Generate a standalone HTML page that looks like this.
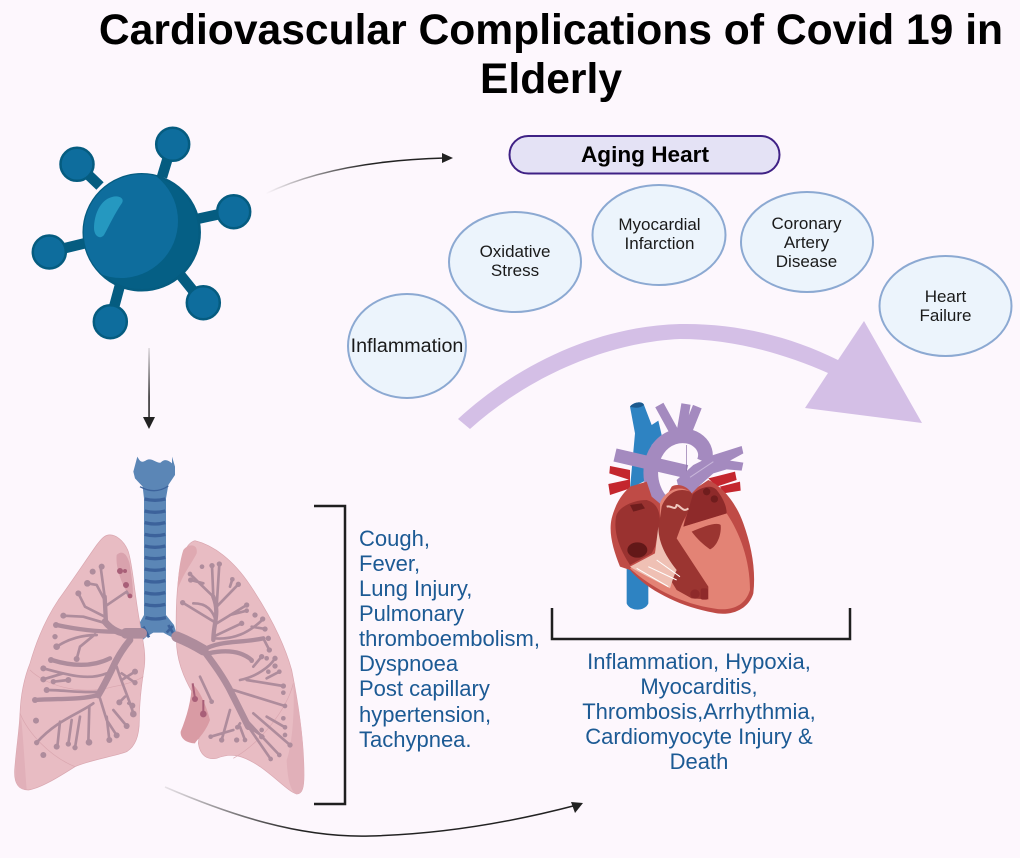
<!DOCTYPE html>
<html><head><meta charset="utf-8"><style>
html,body{margin:0;padding:0;background:#fdf7fd}
svg{display:block}
text{font-family:"Liberation Sans",sans-serif}
</style></head><body>
<svg xmlns="http://www.w3.org/2000/svg" width="1020" height="858" viewBox="0 0 1020 858">
<defs>
<linearGradient id="fa" gradientUnits="userSpaceOnUse" x1="265" y1="190" x2="440" y2="158"><stop offset="0" stop-color="#222" stop-opacity="0"/><stop offset=".6" stop-color="#222"/></linearGradient>
<linearGradient id="fb" x1="0" y1="0" x2="0" y2="1"><stop offset="0" stop-color="#222" stop-opacity=".15"/><stop offset=".7" stop-color="#222"/></linearGradient>
<linearGradient id="fc" gradientUnits="userSpaceOnUse" x1="165" y1="788" x2="300" y2="830"><stop offset="0" stop-color="#222" stop-opacity=".1"/><stop offset="1" stop-color="#222"/></linearGradient>
<clipPath id="body"><circle cx="141.700" cy="232.300" r="58"/></clipPath>
</defs>
<rect width="1020" height="858" fill="#fdf7fd"/>
<g font-weight="700" font-size="42.6" fill="#000" text-anchor="middle">
<text x="551" y="44">Cardiovascular Complications of Covid 19 in</text>
<text x="551" y="93">Elderly</text>
</g>

<!-- virus -->
<g stroke="#055c80" stroke-width="10.500">
<path d="M162 177L172 144M100 186L77 164M197 219L234 211M86 243L49 252M120 285L110 322M178 272L203 303"/>
</g>
<g fill="#0e6d9d" stroke="#055c80" stroke-width="2.500">
<circle cx="172.700" cy="144.300" r="16.500"/><circle cx="77" cy="164.300" r="16.500"/><circle cx="233.700" cy="211.700" r="16.500"/><circle cx="49.300" cy="252" r="16.500"/><circle cx="110.300" cy="321.700" r="16.500"/><circle cx="203.300" cy="302.700" r="16.500"/>
</g>
<circle cx="141.700" cy="232.300" r="58" fill="#055f85" stroke="#055c80" stroke-width="2.500"/>
<g clip-path="url(#body)"><circle cx="121" cy="221" r="57" fill="#0e6d9d"/></g>
<path d="M112 197C118 195 125 198 122 203C115 213 109 226 104 235C100 240 94 236 94 228C94 215 100 200 112 197Z" fill="#2598c0"/>

<!-- arrows -->
<path d="M265 194C310 172 370 160 445 158" fill="none" stroke="url(#fa)" stroke-width="1.500"/>
<path d="M442 153L453 158L442 163Z" fill="#222"/>
<rect x="148.300" y="348" width="1.500" height="70" fill="url(#fb)"/>
<path d="M143 417H155L149 429Z" fill="#222"/>
<path d="M165 787C230 815 300 838 370 836C450 834 520 820 577 805" fill="none" stroke="url(#fc)" stroke-width="1.500"/>
<path d="M571 802L583 803L575 813Z" fill="#222"/>

<!-- Aging Heart -->
<rect x="509.500" y="136" width="270" height="37.500" rx="18.700" fill="#e4e2f5" stroke="#3f2185" stroke-width="2"/>
<text x="645" y="162" font-size="22.500" font-weight="700" text-anchor="middle" fill="#000" textLength="128" lengthAdjust="spacingAndGlyphs">Aging Heart</text>

<!-- ellipses -->
<g fill="#ecf4fc" stroke="#8ca9d2" stroke-width="2">
<ellipse cx="407" cy="346" rx="59" ry="52"/>
<ellipse cx="515" cy="262" rx="66" ry="50"/>
<ellipse cx="659" cy="235" rx="66.500" ry="50"/>
<ellipse cx="807" cy="242" rx="66" ry="50"/>
<ellipse cx="945.500" cy="306" rx="66" ry="50"/>
</g>
<g font-size="17" fill="#1a1a1a" text-anchor="middle">
<text x="407" y="352" font-size="19.700">Inflammation</text>
<text x="515" y="257">Oxidative</text><text x="515" y="276">Stress</text>
<text x="659.500" y="230">Myocardial</text><text x="659.500" y="249">Infarction</text>
<text x="806.500" y="229">Coronary</text><text x="806.500" y="248">Artery</text><text x="806.500" y="267">Disease</text>
<text x="945.500" y="302">Heart</text><text x="945.500" y="321">Failure</text>
</g>

<!-- big arrow -->
<path d="M458 419C520 362 600 326 680 324C735 323 790 336 838 360L864 321L922 423L805 408L828 373C780 352 730 339 680 339C610 342 530 375 470 429Z" fill="#d4bfe6"/>

<!-- lungs -->
<g transform="translate(0 450) scale(.33333)">
<g fill="#5b86b6">
<path d="M412 20C420 35 425 40 440 30C455 22 470 40 482 38C495 22 510 35 516 40L516 20L525 50L525 75L505 105L498 145L432 145L428 110L405 85L400 65Z"/>
<path d="M432 135H498V495L522 525L537 578L512 560L490 548H460L440 560L428 570L418 520L432 495Z"/>
</g>
<g stroke="#3c629b" stroke-width="10" fill="none">
<path d="M434 147Q465 155 496 147M434 183Q465 191 496 183M434 218Q465 226 496 218M434 253Q465 261 496 253M434 288Q465 296 496 288M434 322Q465 330 496 322M434 357Q465 365 496 357M434 392Q465 400 496 392M434 428Q465 436 496 428M434 463Q465 471 496 463M436 503Q465 511 498 503"/>
<path d="M430 530L447 562M518 528L500 548M505 525L530 568" stroke-width="8"/>
</g>
<path d="M420 110Q465 135 505 108" fill="none" stroke="#3c629b" stroke-width="4"/>

<path d="M325 255C345 252 372 270 385 305C398 345 402 420 418 510C430 580 438 610 433 650C425 700 418 750 418 810C418 860 405 890 380 905C340 920 270 930 225 950C170 985 120 1015 85 1020C55 1020 42 1000 44 960C48 900 58 840 60 790C62 740 70 690 90 640C110 570 135 510 175 450C215 395 265 320 290 285C303 268 312 257 325 255Z" fill="#e8bcc3" stroke="#d9a6af" stroke-width="2"/>
<path d="M585 272C640 285 700 330 750 405C800 480 850 570 875 660C895 760 912 880 912 975C912 1010 908 1032 890 1032C865 1025 830 985 780 950C735 920 700 905 650 925C620 930 600 915 595 880C600 830 610 800 590 750C560 700 535 650 530 590C527 520 528 450 535 390C540 340 552 280 585 272Z" fill="#e8bcc3" stroke="#d9a6af" stroke-width="2"/>
<path d="M350 315C370 295 388 320 392 360C398 400 402 440 395 445C375 425 345 360 350 315Z" fill="#d9a2ad"/>
<path d="M550 300C565 280 595 280 590 310C575 340 550 370 532 420C535 370 540 330 550 300Z" fill="#dfa9b1"/>
<path d="M575 700C600 720 620 770 630 810C615 850 590 870 585 880C560 880 540 865 542 845C560 800 575 750 575 700Z" fill="#d99ba4"/>
<path d="M46 960C48 900 60 840 62 790C70 860 75 960 80 1018C55 1020 44 1000 46 960ZM860 930C875 890 885 790 880 700C900 780 912 880 912 975C912 1010 908 1032 890 1032C870 1025 862 980 860 930Z" fill="#e1b0b9"/>
<g fill="none" stroke="#d9a6af" stroke-width="2">
<path d="M90 660C130 700 230 740 340 710C370 705 405 695 430 680M60 790C85 850 150 920 225 950M880 700C860 780 780 880 700 925"/>
</g>
<!-- bronchi -->
<g fill="none" stroke="#ae8c9c" stroke-linecap="round" stroke-linejoin="round">
<g stroke-width="32"><path d="M425 550H378M530 560C560 572 585 585 610 600"/></g>
<g stroke-width="20"><path d="M390 555C360 550 335 540 315 515M390 570C365 600 350 625 335 660C320 690 310 710 295 735M610 600C640 640 670 680 695 730C710 760 725 790 745 830"/></g>
<g stroke-width="13"><path d="M318 520L314 440M345 545C290 545 240 540 170 525M330 625C280 650 220 650 155 630M295 735C240 750 180 745 105 750M640 570C640 520 660 490 640 440M610 600C660 570 720 580 790 565M625 610C670 600 720 600 755 630"/></g>
<g stroke-width="8"><path d="M314 500L255 470L235 430M314 450L290 405L262 400M314 470L380 425L388 440M314 440L302 352M318 520L250 500L190 497M290 555C240 555 200 570 170 590M285 553L240 590L230 627M320 670C270 690 220 680 130 655M300 725C250 730 190 720 140 720M280 760C240 790 170 810 110 878M268 770L265 877M180 815L172 890M215 810L205 882M240 800L225 893M350 650C365 700 385 740 400 790M365 690L405 665M365 670L405 698M300 745L320 810L350 856M320 800L328 870M375 740L358 757M385 760L397 767M340 780L380 828M160 695L205 690M130 688L190 670"/>
<path d="M640 440L570 372M610 400L572 390M640 440L636 347M650 470L658 342M650 470L715 403M690 410L697 388M650 520L740 465M690 495L740 482M640 560L725 520M640 565C700 570 745 550 790 507M755 530L795 537M790 565L808 600M720 690C770 680 810 650 825 625M760 650L785 620M740 690L850 708M800 685L838 665M700 720L855 768M745 830L790 860M745 830L812 927M720 790L838 915M760 790L870 885M800 800L855 832M690 780L665 870M700 840L632 860M720 830L735 870M720 820L712 832M600 680L635 755M580 460C620 460 640 480 650 520L548 458"/></g>
</g>
<g fill="#ae8c9c">
<circle cx="235" cy="430" r="9"/><circle cx="262" cy="400" r="10"/><circle cx="305" cy="350" r="9"/><circle cx="278" cy="365" r="9"/><circle cx="190" cy="497" r="9"/><circle cx="168" cy="525" r="9"/><circle cx="170" cy="590" r="10"/><circle cx="165" cy="560" r="8"/><circle cx="230" cy="627" r="9"/><circle cx="153" cy="630" r="9"/><circle cx="130" cy="655" r="9"/><circle cx="130" cy="688" r="9"/><circle cx="160" cy="695" r="8"/><circle cx="205" cy="690" r="9"/><circle cx="140" cy="720" r="9"/><circle cx="105" cy="750" r="9"/><circle cx="108" cy="812" r="9"/><circle cx="110" cy="878" r="8"/><circle cx="130" cy="915" r="9"/><circle cx="170" cy="890" r="9"/><circle cx="205" cy="882" r="8"/><circle cx="225" cy="893" r="8"/><circle cx="267" cy="877" r="10"/><circle cx="328" cy="870" r="9"/><circle cx="350" cy="856" r="9"/><circle cx="380" cy="828" r="9"/><circle cx="400" cy="792" r="10"/><circle cx="358" cy="757" r="9"/><circle cx="397" cy="767" r="9"/><circle cx="405" cy="665" r="9"/><circle cx="405" cy="698" r="8"/>
<circle cx="548" cy="458" r="8"/><circle cx="572" cy="390" r="8"/><circle cx="570" cy="372" r="7"/><circle cx="606" cy="350" r="7"/><circle cx="636" cy="347" r="8"/><circle cx="658" cy="342" r="8"/><circle cx="697" cy="388" r="7"/><circle cx="715" cy="403" r="8"/><circle cx="740" cy="465" r="8"/><circle cx="740" cy="482" r="7"/><circle cx="725" cy="520" r="8"/><circle cx="765" cy="495" r="8"/><circle cx="788" cy="507" r="8"/><circle cx="795" cy="537" r="8"/><circle cx="805" cy="565" r="8"/><circle cx="808" cy="600" r="8"/><circle cx="755" cy="632" r="7"/><circle cx="785" cy="620" r="8"/><circle cx="800" cy="625" r="7"/><circle cx="825" cy="625" r="8"/><circle cx="825" cy="648" r="8"/><circle cx="838" cy="665" r="7"/><circle cx="805" cy="665" r="7"/><circle cx="850" cy="708" r="8"/><circle cx="850" cy="728" r="7"/><circle cx="855" cy="768" r="7"/><circle cx="850" cy="805" r="7"/><circle cx="855" cy="832" r="7"/><circle cx="855" cy="855" r="7"/><circle cx="870" cy="885" r="8"/><circle cx="838" cy="915" r="7"/><circle cx="812" cy="927" r="7"/><circle cx="785" cy="860" r="8"/><circle cx="785" cy="840" r="7"/><circle cx="735" cy="870" r="7"/><circle cx="712" cy="832" r="7"/><circle cx="710" cy="870" r="8"/><circle cx="665" cy="870" r="8"/><circle cx="632" cy="860" r="7"/><circle cx="635" cy="755" r="7"/>
</g>
<g fill="#a85f78"><circle cx="360" cy="363" r="9"/><circle cx="375" cy="363" r="6"/><circle cx="378" cy="405" r="9"/><circle cx="390" cy="438" r="7"/><circle cx="585" cy="747" r="9"/><circle cx="610" cy="792" r="10"/></g>
<g fill="none" stroke="#a85f78" stroke-width="6"><path d="M578 700L585 745M610 750L610 790"/></g>
</g>

<!-- bracket left -->
<path d="M314 506H345V804H314" fill="none" stroke="#1f1f1f" stroke-width="2.500"/>
<g font-size="22" fill="#1c5a94">
<text x="359" y="546">Cough,</text><text x="359" y="571">Fever,</text><text x="359" y="596">Lung Injury,</text><text x="359" y="621">Pulmonary</text><text x="359" y="646">thromboembolism,</text><text x="359" y="671">Dyspnoea</text><text x="359" y="696">Post capillary</text><text x="359" y="722">hypertension,</text><text x="359" y="747">Tachypnea.</text>
</g>

<!-- heart -->
<g transform="translate(580 390) scale(.33333)">
<path d="M140 530H205V640C195 665 150 665 140 640Z" fill="#2e83c2"/>
<path d="M150 50C160 36 188 32 192 45L215 105L235 92L245 135L215 165L200 270L150 295L165 130Z" fill="#2e83c2"/>
<g fill="none" stroke-linecap="butt">
<path d="M105 195L320 245" stroke="#a48abf" stroke-width="40"/>
<path d="M238 45L282 125M318 42L304 125M352 50L322 125" stroke="#a48abf" stroke-width="28"/>
<path d="M255 345C190 290 200 170 280 142C340 122 392 170 372 215" stroke="#a48abf" stroke-width="44"/>
<path d="M320 165V250" stroke="#8b6fa8" stroke-width="2"/>
</g>
<path d="M150 50C160 36 188 32 192 45C180 55 165 55 150 50Z" fill="#1c5a8e"/>
<g fill="#c4262e"><path d="M90 228L150 240L150 270L88 250Z"/><path d="M85 282L150 268L150 295L90 315Z"/><path d="M385 265L465 245L470 270L410 290ZM420 290L480 275L482 302L430 310Z"/></g>
<path d="M290 270L340 225L400 195L485 168L490 190L450 212L490 218L485 242L440 238L400 250L355 290L335 320L295 290Z" fill="#a48abf"/>
<path d="M330 262L400 215" stroke="#c8b6da" stroke-width="3" fill="none"/>
<path d="M150 290L200 275L215 320L245 345L275 290C290 280 320 285 335 310L355 290L385 270C420 285 465 330 490 400C515 470 528 540 520 610C505 660 450 680 400 668C300 650 200 600 150 540L120 530C100 480 85 430 95 385C110 330 130 310 150 290Z" fill="#bf4b46"/>
<path d="M108 380C115 350 160 330 200 330C230 340 240 360 240 400L225 470L215 490L150 525C120 480 100 430 108 380Z" fill="#9a3230"/>
<path d="M185 340L195 355L160 365L150 345Z" fill="#6f1d1d"/>
<ellipse cx="172" cy="480" rx="30" ry="23" fill="#621818"/>
<path d="M240 340C250 310 290 280 330 305L310 410L440 370C480 430 510 510 510 600C495 650 450 665 400 655C300 640 210 590 150 535L225 490L240 400Z" fill="#e38375"/>
<path d="M245 350C260 310 295 290 330 305L345 320C340 340 320 370 305 405L290 445L385 590V628L335 625L290 600L235 510L230 450Z" fill="#9b3531"/>
<path d="M340 310C360 295 390 280 410 300C430 325 440 350 440 370L310 410Z" fill="#8e2a2a"/>
<circle cx="380" cy="305" r="11" fill="#6f1d1d"/><circle cx="403" cy="327" r="11" fill="#6f1d1d"/>
<path d="M335 425C370 410 410 395 422 405C425 435 410 470 390 478C370 465 350 445 335 425Z" fill="#9b3531"/>
<path d="M150 530L225 490L235 410C235 450 250 490 290 540C280 560 275 580 270 595C225 570 180 550 150 530Z" fill="#efc0b4"/>
<path d="M170 535L265 590M205 530L290 570M230 510L300 560" stroke="#fff" stroke-width="3" fill="none"/>
<path d="M260 350C275 345 285 365 290 345C300 345 310 370 325 355" fill="none" stroke="#f0c7bd" stroke-width="6"/>
<circle cx="345" cy="612" r="14" fill="#8e2a2a"/><rect x="362" y="595" width="22" height="34" rx="6" fill="#8e2a2a"/>
</g>

<!-- bracket right -->
<path d="M552 608V639H850V608" fill="none" stroke="#1f1f1f" stroke-width="2.500"/>
<g font-size="22" fill="#1c5a94" text-anchor="middle">
<text x="699" y="669">Inflammation, Hypoxia,</text><text x="699" y="694">Myocarditis,</text><text x="699" y="719">Thrombosis,Arrhythmia,</text><text x="699" y="744">Cardiomyocyte Injury &amp;</text><text x="699" y="769">Death</text>
</g>
</svg>
</body></html>
